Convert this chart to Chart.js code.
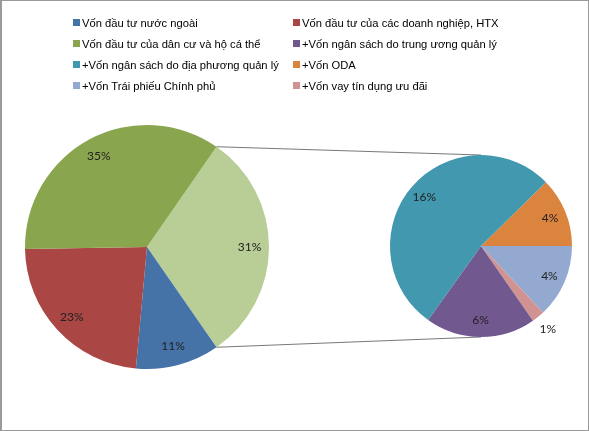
<!DOCTYPE html>
<html lang="vi">
<head>
  <meta charset="UTF-8" />
  <title>Cơ cấu vốn đầu tư</title>
  <script src="https://cdn.jsdelivr.net/npm/chart.js"></script>
  <style>
    html, body { margin: 0; padding: 0; background: #fff; }
    #wrap { position: relative; width: 589px; height: 431px; box-sizing: border-box; border: 1px solid #9a9a9a; border-left-width: 2px; overflow: hidden; }
    #wrap canvas { position: absolute; left: -2px; top: -1px; }
    #legend { position: absolute; left: 71px; top: 14px; width: 440px; display: grid; grid-template-columns: 220px 220px; row-gap: 6px; font-family: "Liberation Sans", Arial, sans-serif; font-size: 11.2px; color: #000; z-index: 2; }
    #legend div { display: flex; align-items: center; height: 15px; white-space: nowrap; }
    #legend span.box { display: inline-block; width: 7px; height: 7px; margin-right: 2px; }
  </style>
</head>
<body>
  <div id="wrap">
    <canvas id="mainPie" width="589" height="431"></canvas>
    <canvas id="subPie" width="589" height="431"></canvas>
    <div id="legend"></div>
  </div>

  <script>
    // main pie (the last slice is the sum of the sub pie)
    const mainLabels = ['Vốn đầu tư nước ngoài', 'Vốn đầu tư của các doanh nghiệp, HTX', 'Vốn đầu tư của dân cư và hộ cá thể'];
    const mainValues = [11.1, 23.3, 34.9];
    const mainColors = ['#4572A7', '#AA4643', '#89A54E'];
    const otherColor = '#B9CD96';

    // sub pie, clockwise from the orange slice
    const subLabels = ['+Vốn ODA', '+Vốn Trái phiếu Chính phủ', '+Vốn vay tín dụng ưu đãi', '+Vốn ngân sách do trung ương quản lý', '+Vốn ngân sách do địa phương quản lý'];
    const subValues = [3.8, 4.0, 0.7, 6.0, 16.2];
    const subColors = ['#DB843D', '#93A9CF', '#D19392', '#71588F', '#4198AF'];

    // legend order as in the picture
    const legendOrder = [
      ['Vốn đầu tư nước ngoài', '#4572A7'],
      ['Vốn đầu tư của các doanh nghiệp, HTX', '#AA4643'],
      ['Vốn đầu tư của dân cư và hộ cá thể', '#89A54E'],
      ['+Vốn ngân sách do trung ương quản lý', '#71588F'],
      ['+Vốn ngân sách do địa phương quản lý', '#4198AF'],
      ['+Vốn ODA', '#DB843D'],
      ['+Vốn Trái phiếu Chính phủ', '#93A9CF'],
      ['+Vốn vay tín dụng ưu đãi', '#D19392']
    ];

    const otherValue = subValues.reduce((a, b) => a + b, 0);
    const total = mainValues.reduce((a, b) => a + b, 0) + otherValue;

    const legend = document.getElementById('legend');
    legendOrder.forEach(([text, color]) => {
      const d = document.createElement('div');
      d.innerHTML = `<span class="box" style="background:${color}"></span>${text}`;
      legend.appendChild(d);
    });

    // percent labels inside the slices, tiny ones outside
    const pctLabels = {
      id: 'pctLabels',
      afterDatasetsDraw(chart) {
        const ctx = chart.ctx;
        const values = chart.data.datasets[0].data;
        ctx.save();
        ctx.font = '12px Lato, "Open Sans", sans-serif';
        ctx.fillStyle = '#222';
        ctx.textAlign = 'center';
        ctx.textBaseline = 'middle';
        chart.getDatasetMeta(0).data.forEach((arc, i) => {
          const mid = (arc.startAngle + arc.endAngle) / 2;
          const pct = Math.round(values[i] / total * 100);
          const small = (arc.endAngle - arc.startAngle) < 0.2;
          const r = arc.outerRadius * (small ? 1.17 : chart.options.labelPos);
          ctx.fillText(pct + '%', arc.x + Math.cos(mid) * r, arc.y + Math.sin(mid) * r);
        });
        ctx.restore();
      }
    };

    const otherAngle = otherValue / total * 360;

    const mainChart = new Chart(document.getElementById('mainPie'), {
      type: 'pie',
      data: {
        labels: ['Khác', ...mainLabels],
        datasets: [{
          data: [otherValue, ...mainValues],
          backgroundColor: [otherColor, ...mainColors],
          borderWidth: 0
        }]
      },
      options: {
        responsive: false,
        animation: false,
        rotation: 90 - otherAngle / 2,
        labelPos: 0.84,
        layout: { padding: { left: 25, right: 320, top: 125, bottom: 62 } },
        plugins: { legend: { display: false }, tooltip: { enabled: false } }
      },
      plugins: [pctLabels]
    });

    // connector lines from the "other" slice to the sub pie
    const connectors = {
      id: 'connectors',
      beforeDatasetsDraw(chart) {
        const src = mainChart.getDatasetMeta(0).data[0];
        const dst = chart.getDatasetMeta(0).data[0];
        const ctx = chart.ctx;
        ctx.save();
        ctx.strokeStyle = '#555';
        ctx.lineWidth = 0.8;
        ctx.beginPath();
        ctx.moveTo(src.x + Math.cos(src.startAngle) * src.outerRadius, src.y + Math.sin(src.startAngle) * src.outerRadius);
        ctx.lineTo(dst.x, dst.y - dst.outerRadius);
        ctx.moveTo(src.x + Math.cos(src.endAngle) * src.outerRadius, src.y + Math.sin(src.endAngle) * src.outerRadius);
        ctx.lineTo(dst.x, dst.y + dst.outerRadius);
        ctx.stroke();
        ctx.restore();
      }
    };

    new Chart(document.getElementById('subPie'), {
      type: 'pie',
      data: {
        labels: subLabels,
        datasets: [{
          data: subValues,
          backgroundColor: subColors,
          borderWidth: 0
        }]
      },
      options: {
        responsive: false,
        animation: false,
        rotation: 45.5,
        labelPos: 0.82,
        layout: { padding: { left: 390, right: 17, top: 155, bottom: 94 } },
        plugins: { legend: { display: false }, tooltip: { enabled: false } }
      },
      plugins: [connectors, pctLabels]
    });
  </script>
</body>
</html>
